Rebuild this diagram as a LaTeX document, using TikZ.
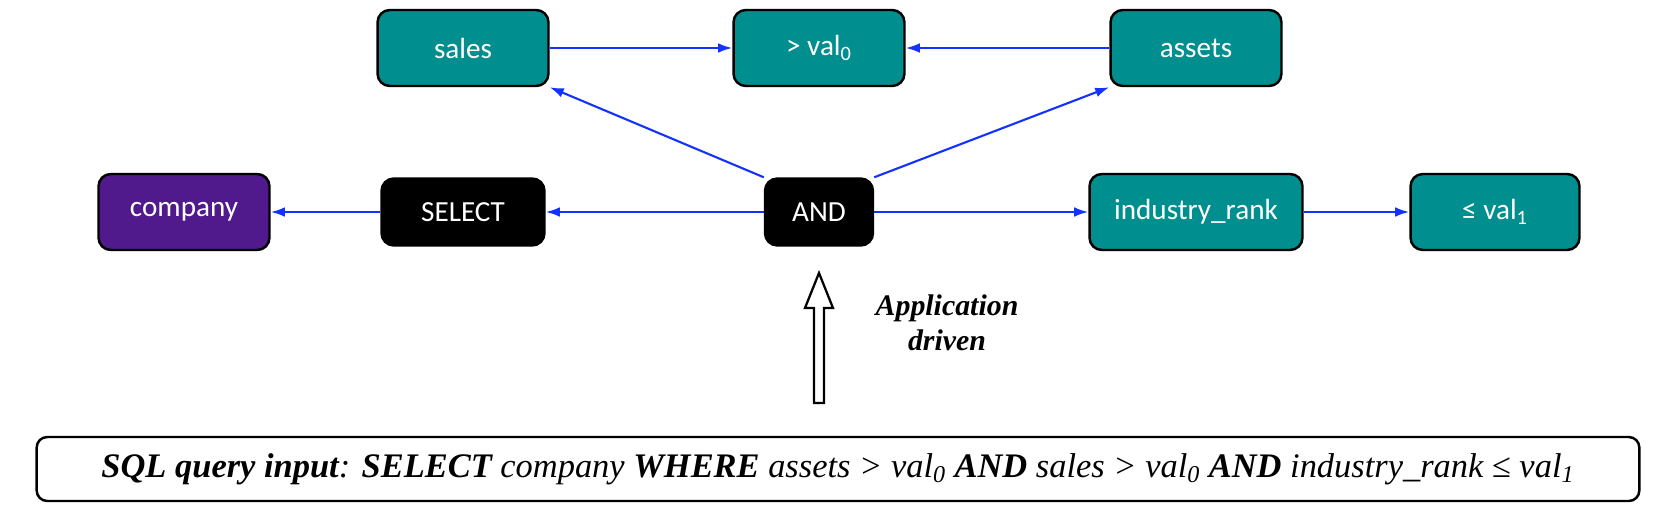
\documentclass[tikz,border=0pt]{standalone}
\usepackage{fontspec}
\setmainfont{Liberation Serif}
\newfontfamily\boxfont{Carlito}
\usetikzlibrary{arrows.meta, positioning}
\definecolor{tealbox}{RGB}{0,142,142}
\definecolor{purplebox}{RGB}{80,26,140}
\definecolor{linkblue}{RGB}{20,50,255}
\tikzset{
    block_teal/.style={rectangle, draw, line width=1.4pt, rounded corners=7pt, fill=tealbox, text=white, font=\boxfont\fontsize{16.6}{19}\selectfont, minimum width=3.42cm, minimum height=1.52cm},
    block_purple/.style={block_teal, fill=purplebox},
    block_black/.style={block_teal, fill=black, minimum height=1.34cm},
    query_box/.style={rectangle, draw, line width=1.4pt, rounded corners=6pt, fill=white, minimum width=32.06cm, minimum height=1.28cm, font=\itshape\fontsize{19.6}{22}\selectfont},
    arrow/.style={-{Latex[length=8pt, width=5.5pt]}, line width=1.2pt, linkblue}
}

\begin{document}
\begin{tikzpicture}[x=0.02cm, y=-0.02cm]
            \useasboundingbox (0,0) rectangle (1670,528);

            % Top row
            \node[block_teal] (sales) at (463,48) {sales};
            \node[block_teal] (gtval) at (819,48) {> val\textsubscript{0}};
            \node[block_teal] (assets) at (1196,48) {assets};

            % Middle row
            \node[block_purple] (company) at (184,212) {company};
            \node[block_black, minimum width=3.26cm] (select) at (463,212) {SELECT};
            \node[block_black, minimum width=2.16cm] (and) at (819,212) {AND};
            \node[block_teal, minimum width=4.26cm] (rank) at (1196,212) {industry\_rank};
            \node[block_teal, minimum width=3.38cm] (leval) at (1495,212) {≤ val\textsubscript{1}};

            % Links
            \draw[arrow] (sales) -- (gtval);
            \draw[arrow] (assets) -- (gtval);
            \draw[arrow] (and.north west) -- (sales.south east);
            \draw[arrow] (and.north east) -- (assets.south west);
            \draw[arrow] (and) -- (select);
            \draw[arrow] (select) -- (company);
            \draw[arrow] (and) -- (rank);
            \draw[arrow] (rank) -- (leval);

            % Query input
            \node[query_box] (query) at (838,469) {{\bfseries SQL query input}: {\bfseries SELECT} company {\bfseries WHERE} assets > val\textsubscript{0} {\bfseries AND} sales > val\textsubscript{0} {\bfseries AND} industry\_rank ≤ val\textsubscript{1}};

            % Hollow arrow
            \draw[line width=1.3pt, fill=white] (814,403) -- (814,308) -- (805,308) -- (819,273) -- (833,308) -- (824,308) -- (824,403) -- cycle;
            \node[font=\bfseries\itshape\fontsize{17}{20}\selectfont, align=center] (driven) at (947,323) {Application\\driven};
		\end{tikzpicture}
\end{document}
